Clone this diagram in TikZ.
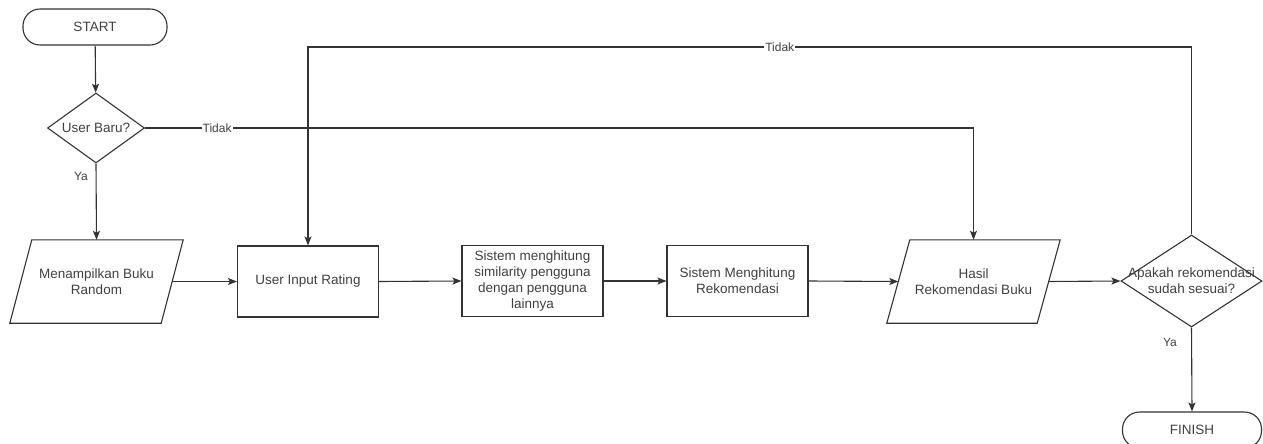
\documentclass[tikz,border=0pt]{standalone}
\usepackage{fontspec}
\setmainfont{Liberation Sans}
\usetikzlibrary{shapes.geometric,arrows.meta,calc}
\tikzset{
  base/.style={draw=black!80, line width=1.1pt, text=black!75, font=\fontsize{13.5}{16}\selectfont, align=center, inner sep=0pt},
  term/.style={base, rectangle, rounded corners=17pt, minimum width=144pt, minimum height=36pt},
  procbox/.style={base, rectangle, minimum width=141pt, minimum height=71pt},
  iobox/.style={rectangle, text=black!75, font=\fontsize{13.5}{16}\selectfont, align=center, inner sep=0pt, minimum width=151pt, minimum height=83pt},
  decis/.style={draw=black!80, line width=1.1pt, diamond, inner sep=0pt},
  txt/.style={text=black!75, font=\fontsize{13.5}{16}\selectfont, align=center, inner sep=0pt},
  lbl/.style={text=black!75, font=\fontsize{12}{14}\selectfont, fill=white, inner sep=1pt},
  arrow/.style={draw=black!80, line width=1.1pt, -{Stealth[length=9pt,width=7pt,inset=2pt]}},
  line/.style={draw=black!80, line width=1.1pt},
}
\begin{document}
\begin{tikzpicture}[x=1pt,y=-1pt]
\useasboundingbox (0,0) rectangle (1263,444);
\fill[white] (0,0) rectangle (1263,444);

\node[term] (start) at (95,27) {START};
\node[decis, minimum width=97pt, minimum height=70pt] (d1) at (96,128) {};
\node[txt] (d1t) at (d1) {User Baru?};

\node[iobox] (p1) at (96.5,281.5) {Menampilkan Buku\\Random};
\draw[line] ([xshift=11pt]p1.north west) -- ([xshift=11pt]p1.north east) -- ([xshift=-11pt]p1.south east) -- ([xshift=-11pt]p1.south west) -- cycle;

\node[procbox] (r1) at (308,281.5) {User Input Rating};
\node[procbox] (r2) at (532.5,281) {Sistem menghitung\\similarity pengguna\\dengan pengguna\\lainnya};
\node[procbox] (r3) at (737.5,281) {Sistem Menghitung\\Rekomendasi};

\node[iobox, minimum width=150pt] (h) at (973.5,281.5) {Hasil\\Rekomendasi Buku};
\draw[line] ([xshift=11.5pt]h.north west) -- ([xshift=11.5pt]h.north east) -- ([xshift=-11.5pt]h.south east) -- ([xshift=-11.5pt]h.south west) -- cycle;

\node[decis, minimum width=141pt, minimum height=92pt] (d2) at (1191.5,281) {};
\node[txt] (d2t) at (d2) {Apakah rekomendasi\\sudah sesuai?};

\node[term, minimum width=139pt] (fin) at (1192,430) {FINISH};

\coordinate (tl) at (308,47);

\draw[arrow] (start) -- (d1);
\draw[arrow] (d1.south) -- (p1.north);
\node[lbl, fill=none] (ya1) at (81,176) {Ya};
\draw[arrow] (d1.east) -- node[lbl, pos=0.087] (t1) {Tidak} (d1.east -| h.north) -- (h.north);
\draw[arrow] (p1.east) -- (r1.west);
\draw[arrow] (r1.east) -- (r2.west);
\draw[arrow] (r2.east) -- (r3.west);
\draw[arrow] (r3.east) -- (h.west);
\draw[arrow] (h.east) -- (d2.west);
\draw[arrow] (d2.north) -- (d2.north |- tl) -- node[lbl, pos=0.466] (t2) {Tidak} (tl) -- (r1.north);
\draw[arrow] (d2.south) -- (fin.north);
\node[lbl, fill=none] (ya2) at (1170,342) {Ya};
\end{tikzpicture}
\end{document}
